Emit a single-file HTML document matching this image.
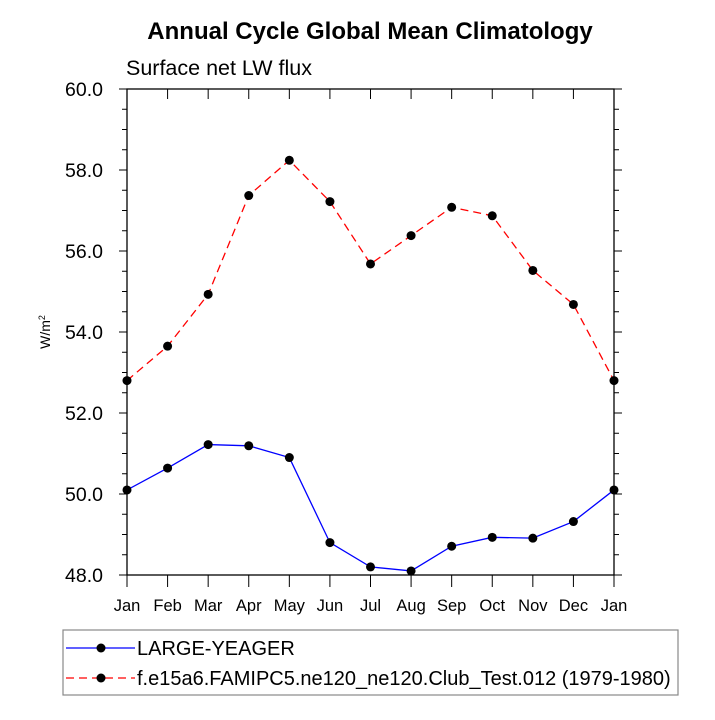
<!DOCTYPE html>
<html><head><meta charset="utf-8"><style>
body{margin:0;background:#fff;}
svg text{font-family:"Liberation Sans",Arial,sans-serif;}
</style></head><body>
<svg id="chart" width="715" height="715" viewBox="0 0 715 715" xmlns="http://www.w3.org/2000/svg">
<text x="370" y="39" text-anchor="middle" font-size="24" font-weight="bold">Annual Cycle Global Mean Climatology</text>
<text x="126" y="75" font-size="21.5">Surface net LW flux</text>
<text transform="translate(50,332) rotate(-90)" text-anchor="middle" font-size="14">W/m<tspan dy="-5" font-size="9">2</tspan></text>
<g id="grid"></g>
<g id="series"></g>
<g id="legend">
<rect x="63" y="630" width="615" height="65" fill="none" stroke="#888" stroke-width="1.2"/>
<g>
<line x1="66" y1="648" x2="135" y2="648" stroke="#00f" stroke-width="1.3"/>
<circle cx="101" cy="648" r="4.5" fill="#000"/>
<text x="137" y="655" font-size="20">LARGE-YEAGER</text></g>
<g>
<line x1="66" y1="678" x2="135" y2="678" stroke="#f00" stroke-width="1.3" stroke-dasharray="8,5"/>
<circle cx="101" cy="678" r="4.5" fill="#000"/>
<text x="137" y="685" font-size="20">f.e15a6.FAMIPC5.ne120_ne120.Club_Test.012 (1979-1980)</text></g>
</g>
</svg>
<script>
const months = ["Jan","Feb","Mar","Apr","May","Jun","Jul","Aug","Sep","Oct","Nov","Dec","Jan"];
const obsValues = [50.1,50.64,51.22,51.19,50.9,48.8,48.2,48.1,48.71,48.93,48.91,49.32,50.1];
const modelValues = [52.8,53.65,54.93,57.37,58.24,57.22,55.68,56.38,57.08,56.87,55.52,54.68,52.8];
const yTicks = [48,50,52,54,56,58,60];
const yTickLabels = ["48.0","50.0","52.0","54.0","56.0","58.0","60.0"];
const L=127,R=614,T=89,B=575,YMIN=48,YMAX=60;
const NS="http://www.w3.org/2000/svg";
function xs(i){return L+(R-L)*i/(months.length-1);}
function ys(v){return B-(v-YMIN)/(YMAX-YMIN)*(B-T);}
function mk(tag,attrs,parent){const e=document.createElementNS(NS,tag);for(const k in attrs)e.setAttribute(k,attrs[k]);parent.appendChild(e);return e;}
const g=document.getElementById('grid');
const frame=mk('rect',{x:L,y:T,width:R-L,height:B-T,fill:'none',stroke:'#000','stroke-width':1.3},g);


for(let v=YMIN;v<=YMAX+1e-6;v+=0.5){
  const major=Math.abs(v/2-Math.round(v/2))<1e-6;
  const len=major?8:5,y=ys(v);
  mk('line',{x1:L-len,y1:y,x2:L,y2:y,stroke:'#000','stroke-width':1},g);
  mk('line',{x1:R,y1:y,x2:R+len,y2:y,stroke:'#000','stroke-width':1},g);
}
yTicks.forEach((v,i)=>{
  const t=mk('text',{x:L-24,y:ys(v)+7,'text-anchor':'end','font-size':19.5},g);
  t.textContent=yTickLabels[i];
  
  
});
months.forEach((m,i)=>{
  const x=xs(i);
  mk('line',{x1:x,y1:B,x2:x,y2:B+12,stroke:'#000','stroke-width':1},g);
  mk('line',{x1:x,y1:T,x2:x,y2:T+10,stroke:'#000','stroke-width':1},g);
  const t=mk('text',{x:x,y:B+36,'text-anchor':'middle','font-size':16.5},g);
  t.textContent=m;
  
  
});
const s=document.getElementById('series');
function draw(vals,color,dash,name){
  const grp=mk('g',{},s);
  
  
  const pts=vals.map((v,i)=>xs(i)+','+ys(v)).join(' ');
  const a={points:pts,fill:'none',stroke:color,'stroke-width':1.3};
  if(dash)a['stroke-dasharray']='8,5';
  mk('polyline',a,grp);
  vals.forEach((v,i)=>{
    const c=mk('circle',{cx:xs(i),cy:ys(v),r:4.5,fill:'#000'},grp);
    
    
  });
}
draw(obsValues,'#00f',false,'series-large-yeager');
draw(modelValues,'#f00',true,'series-model');
</script>
</body></html>
